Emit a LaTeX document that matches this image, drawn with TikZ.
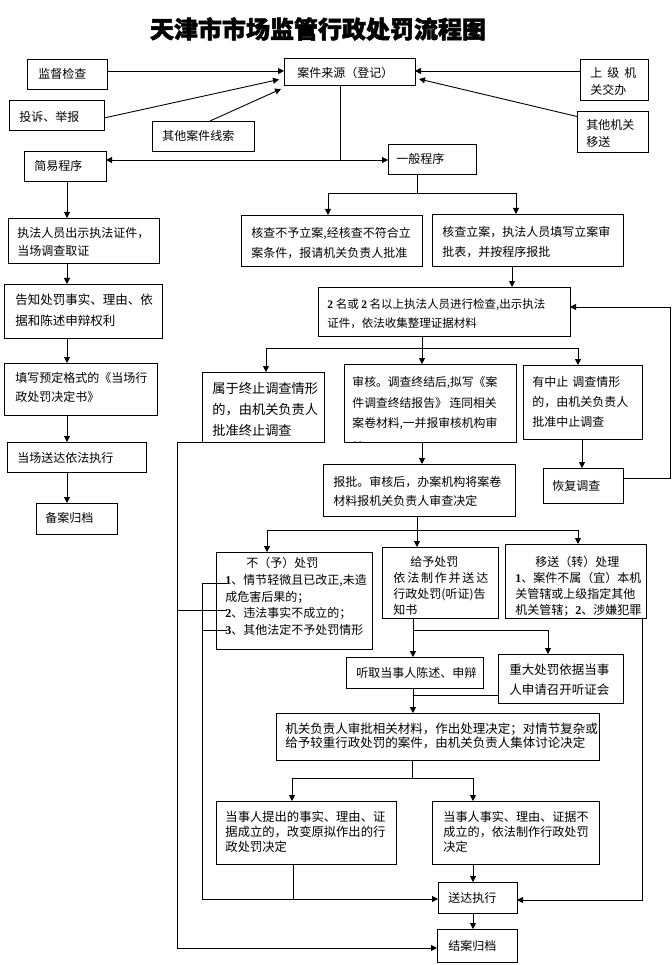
\documentclass[tikz,border=0pt]{standalone}
\usepackage{fontspec}
\usetikzlibrary{arrows.meta}
\newfontfamily\cjk{Noto Sans CJK SC}
\newfontfamily\cjkt[BoldFeatures={FakeBold=2}]{Noto Sans CJK SC}
\newfontfamily\lat{Liberation Serif}
\newcommand\setfs[2]{\fontsize{#1}{#2}\selectfont}
\newcommand\mkbox[5]{\node[box, minimum width={(#4)-(#2)}, minimum height={(#5)-(#3)}] (#1) at ({((#2)+(#4))/2},{((#3)+(#5))/2}) {};}
\newcommand\bd[1]{{\lat\bfseries #1}}
\tikzset{
  box/.style={draw, line width=0.9pt, inner sep=0pt, outer sep=0pt},
  txt/.style={inner sep=0pt, anchor=west, align=left},
  arr/.style={-{Triangle[length=6pt,width=6pt]}},
}
\begin{document}
\begin{tikzpicture}[x=1pt,y=-1pt,line width=0.9pt]
\fill[white] (0,0) rectangle (671,965);
\useasboundingbox (0,0) rectangle (671,965);

% title
\node[inner sep=0pt, font=\cjkt\bfseries\setfs{24}{28}] (title) at (318,29) {天津市市场监管行政处罚流程图};

% boxes
\mkbox{jdjc}{27}{59}{107}{89}
\mkbox{ajly}{284}{58}{415}{85}
\mkbox{sjjg}{580}{59}{648}{100}
\mkbox{tsjb}{9}{100}{104}{130}
\mkbox{qtaj}{152}{121}{254}{151}
\mkbox{qtjg}{577}{111}{648}{152}
\mkbox{jycx}{24}{151}{106}{181}
\mkbox{ybcx}{388}{144}{476}{174}
\mkbox{hcbyla}{241}{215}{422}{266}
\mkbox{hcla}{432}{214}{623}{266}
\mkbox{em}{318}{287}{570}{336}
\mkbox{zzdc}{202}{372}{324}{442}
\mkbox{sh}{344}{364}{516}{442}
\mkbox{zz}{523}{365}{642}{439}
\mkbox{hf}{543}{468}{623}{503}
\mkbox{bp}{323}{464}{515}{516}
\mkbox{byc}{216}{552}{372}{649}
\mkbox{gycf}{382}{547}{498}{618}
\mkbox{ys}{505}{544}{646}{618}
\mkbox{tq}{346}{657}{483}{688}
\mkbox{zdcf}{498}{654}{623}{703}
\mkbox{jg}{276}{713}{599}{760}
\mkbox{dsra}{216}{801}{396}{864}
\mkbox{dsrb}{432}{801}{599}{864}
\mkbox{sdzx}{438}{882}{517}{913}
\mkbox{jagd}{437}{929}{517}{962}
\mkbox{zfry}{8}{218}{159}{263}
\mkbox{gz}{4}{284}{162}{338}
\mkbox{tx}{4}{363}{157}{415}
\mkbox{dcsd}{7}{442}{146}{472}
\mkbox{ba}{36}{503}{117}{534}

% texts
\node[txt, font=\cjk\setfs{12}{17}] at (38,74) {监督检查};
\node[txt, font=\cjk\setfs{12}{17}] at (297,73) {案件来源（登记）};
\node[txt, font=\cjk\setfs{12}{17}] at (590,81.5) {上\hspace{5pt}级\hspace{5pt}机\\关交办};
\node[txt, font=\cjk\setfs{12}{17}] at (19,117) {投诉、举报};
\node[txt, font=\cjk\setfs{12}{17}] at (162,136) {其他案件线索};
\node[txt, font=\cjk\setfs{12}{17}] at (586,133.5) {其他机关\\移送};
\node[txt, font=\cjk\setfs{12}{17}] at (34,166) {简易程序};
\node[txt, font=\cjk\setfs{12}{17}] at (396,159) {一般程序};
\node[txt, font=\cjk\setfs{12}{18}] at (17,242) {执法人员出示执法证件，\\当场调查取证};
\node[txt, font=\cjk\setfs{12.5}{21}] at (15,310.5) {告知处罚事实、理由、依\\据和陈述申辩权利};
\node[txt, font=\cjk\setfs{12}{19}] at (15,387.5) {填写预定格式的《当场行\\政处罚决定书》};
\node[txt, font=\cjk\setfs{12}{17}] at (17,458) {当场送达依法执行};
\node[txt, font=\cjk\setfs{12}{17}] at (45,518) {备案归档};
\node[txt, font=\cjk\setfs{12}{20}] at (251,243) {核查不予立案,经核查不符合立\\案条件，报请机关负责人批准};
\node[txt, font=\cjk\setfs{12}{20}] at (442,242) {核查立案，执法人员填写立案审\\批表，并按程序报批};
\node[txt, font=\cjk\setfs{11.5}{19}] at (327,313.5) {\bd{2} 名或 \bd{2} 名以上执法人员进行检查,出示执法\\证件，依法收集整理证据材料};
\node[txt, font=\cjk\setfs{13.2}{21}] at (212,409) {属于终止调查情形\\的，由机关负责人\\批准终止调查};
\begin{scope}
\clip (sh.north west) rectangle (sh.south east);
\node[txt, font=\cjk\setfs{11.8}{20.5}] at (352,414.5) {审核。调查终结后,拟写《案\\件调查终结报告》 连同相关\\案卷材料,一并报审核机构审\\[3.5pt]核};
\end{scope}
\node[txt, font=\cjk\setfs{12}{20}] at (532,402) {有中止\hspace{4pt}调查情形\\的，由机关负责人\\批准中止调查};
\node[txt, font=\cjk\setfs{12}{17}] at (552,486) {恢复调查};
\node[txt, font=\cjk\setfs{12}{19.5}] at (333,491.5) {报批。审核后，办案机构将案卷\\材料报机关负责人审查决定};
\node[txt, font=\cjk\setfs{12}{16.75}] at (225,596.5) {\hspace*{21pt}不（予）处罚\\\bd{1}、情节轻微且已改正,未造\\成危害后果的；\\\bd{2}、违法事实不成立的；\\\bd{3}、其他法定不予处罚情形};
\node[txt, font=\cjk\setfs{12}{16}] at (393,586) {\hspace*{17pt}给予处罚\\依\hspace{1.8pt}法\hspace{1.8pt}制\hspace{1.8pt}作\hspace{1.8pt}并\hspace{1.8pt}送\hspace{1.8pt}达\\行政处罚(听证)告\\知书};
\node[txt, font=\cjk\setfs{12}{16}] at (515,586) {\hspace*{20pt}移送（转）处理\\\bd{1}、案件不属（宜）本机\\关管辖或上级指定其他\\机关管辖；\bd{2}、涉嫌犯罪};
\node[txt, font=\cjk\setfs{12}{17}] at (356,673) {听取当事人陈述、申辩};
\node[txt, font=\cjk\setfs{12.5}{20}] at (509,680) {重大处罚依据当事\\人申请召开听证会};
\node[txt, font=\cjk\setfs{12.5}{14.5}] at (285,736) {机关负责人审批相关材料，作出处理决定；对情节复杂或\\给予较重行政处罚的案件，由机关负责人集体讨论决定};
\node[txt, font=\cjk\setfs{12.3}{15}] at (225,832) {当事人提出的事实、理由、证\\据成立的，改变原拟作出的行\\政处罚决定};
\node[txt, font=\cjk\setfs{12.1}{15}] at (443,832) {当事人事实、理由、证据不\\成立的，依法制作行政处罚\\决定};
\node[txt, font=\cjk\setfs{12}{17}] at (448,898) {送达执行};
\node[txt, font=\cjk\setfs{12}{17}] at (448,946) {结案归档};

% connectors: top
\coordinate (y71) at (0,71);
\draw[arr] (jdjc.east |- y71) -- (ajly.west |- y71);
\draw[arr] (sjjg.west |- y71) -- (ajly.east |- y71);
\draw[arr] ([yshift=-3pt]tsjb.east) -- ([xshift=-5pt,yshift=-8pt]ajly.west);
\draw[arr] ([xshift=7pt]qtaj.north) -- ([xshift=-3pt,yshift=-4pt]ajly.south west);
\draw[arr] ([yshift=15pt]qtjg.west) -- ([xshift=4pt,yshift=-7.5pt]ajly.east);
\coordinate (split) at (340,160);
\draw (ajly.south -| split) -- (split);
\draw[arr] (split) -- (jycx.east |- split);
\draw[arr] (split) -- (ybcx.west |- split);

% general procedure
\coordinate (g1) at (417,193);
\coordinate (g2) at (328,193);
\coordinate (g3) at (516,193);
\draw (ybcx.south -| g1) -- (g1);
\draw[arr] (g1) -- (g2) -- (hcbyla.north -| g2);
\draw[arr] (g1) -- (g3) -- (hcla.north -| g3);
\coordinate (x512) at (512,0);
\draw[arr] (hcla.south -| x512) -- (em.north -| x512);

\coordinate (e1) at (422,348);
\coordinate (e2) at (266,348);
\coordinate (e3) at (578,348);
\draw (em.south -| e1) -- (e1);
\draw[arr] (e1) -- (e2) -- (zzdc.north -| e2);
\draw[arr] (e1) -- (sh.north -| e1);
\draw[arr] (e1) -- (e3) -- (zz.north -| e3);
\draw[arr] (sh.south -| e1) -- (bp.north -| e1);
\coordinate (x582) at (582,0);
\draw[arr] (zz.south -| x582) -- (hf.north -| x582);
\coordinate (r1) at (670,478);
\coordinate (r2) at (670,307);
\draw[arr] (hf.east |- r1) -- (r1) -- (r2) -- (em.east |- r2);

\coordinate (l1) at (177,442);
\coordinate (l2) at (177,948);
\draw[arr] (zzdc.south west) -- (l1) -- (l2) -- (jagd.west |- l2);

\coordinate (b1) at (417,530);
\coordinate (b2) at (267,530);
\coordinate (b3) at (578,530);
\draw (bp.south -| b1) -- (b1);
\draw[arr] (b1) -- (b2) -- (byc.north -| b2);
\draw[arr] (b1) -- (gycf.north -| b1);
\draw[arr] (b1) -- (b3) -- (ys.north -| b3);

% no-penalty side lines
\coordinate (n1) at (202,583);
\coordinate (n1e) at (227,583);
\coordinate (n2) at (177,610);
\coordinate (n2e) at (227,610);
\coordinate (n3) at (202,630);
\coordinate (n3e) at (227,630);
\coordinate (n4) at (202,899);
\draw (n1e) -- (n1) -- (n4);
\draw (n2) -- (n2e);
\draw (n3) -- (n3e);
\draw[arr] (n4) -- (sdzx.west |- n4);

\coordinate (s1) at (642,900);
\draw[arr] (ys.south -| s1) -- (s1) -- (sdzx.east |- s1);

\coordinate (k1) at (413,630);
\coordinate (k2) at (548,630);
\coordinate (k3) at (413,695);
\draw (gycf.south -| k1) -- (k1);
\draw[arr] (k1) -- (tq.north -| k1);
\draw[arr] (k1) -- (k2) -- (zdcf.north -| k2);
\draw[arr] (tq.south -| k1) -- (jg.north -| k1);
\draw (zdcf.west |- k3) -- (k3);

\coordinate (m1) at (412,778);
\coordinate (m2) at (292,778);
\coordinate (m3) at (473,778);
\draw (jg.south -| m1) -- (m1);
\draw[arr] (m1) -- (m2) -- (dsra.north -| m2);
\draw[arr] (m1) -- (m3) -- (dsrb.north -| m3);
\coordinate (p1) at (293,899);
\draw (dsra.south -| p1) -- (p1);
\draw[arr] (dsrb.south -| m3) -- (sdzx.north -| m3);
\draw[arr] (sdzx.south -| m3) -- (jagd.north -| m3);

% simple procedure column
\coordinate (lc) at (67,0);
\draw[arr] (jycx.south -| lc) -- (zfry.north -| lc);
\draw[arr] (zfry.south -| lc) -- (gz.north -| lc);
\draw[arr] (gz.south -| lc) -- (tx.north -| lc);
\draw[arr] (tx.south -| lc) -- (dcsd.north -| lc);
\draw[arr] (dcsd.south -| lc) -- (ba.north -| lc);
\end{tikzpicture}
\end{document}
